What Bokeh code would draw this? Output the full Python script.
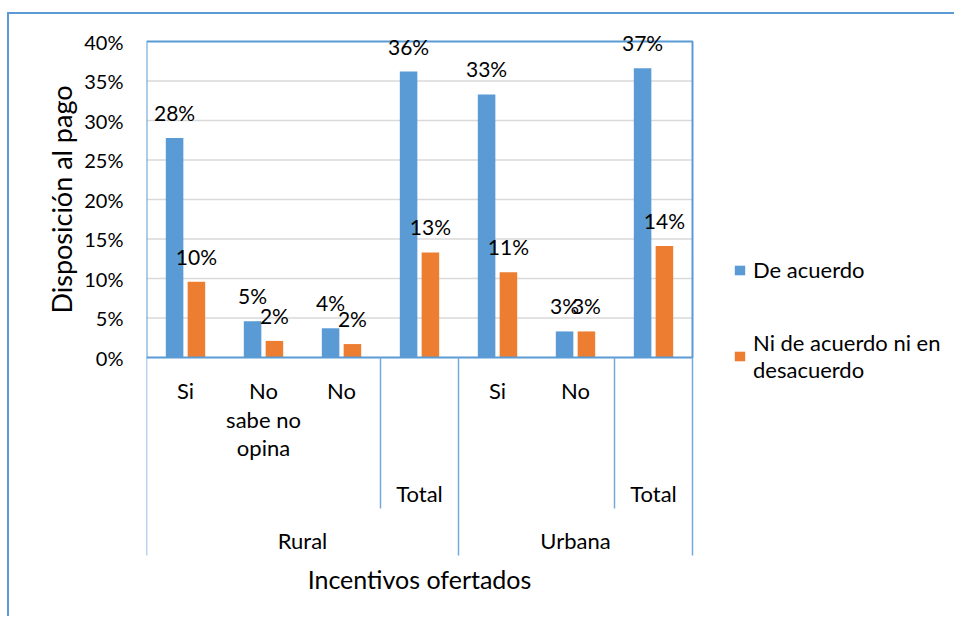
import math
from bokeh.plotting import figure
from bokeh.layouts import row
from bokeh.models import (ColumnDataSource, Range1d, FixedTicker, NumeralTickFormatter,
                          LabelSet, Legend, LegendItem)
from bokeh.core.properties import value
from bokeh.embed import file_html
from bokeh.resources import INLINE

# ---------------- data ----------------
groups = ["Rural", "Urbana"]
group_sizes = [4, 3]
categories = ["Si", "No\nsabe no\nopina", "No", "", "Si", "No", ""]
subtotal_labels = ["", "", "", "Total", "", "", "Total"]
de_acuerdo = [0.278, 0.046, 0.037, 0.362, 0.333, 0.033, 0.366]
ni_de_acuerdo = [0.096, 0.021, 0.017, 0.133, 0.108, 0.033, 0.141]
series_names = ["De acuerdo", "Ni de acuerdo ni en\ndesacuerdo"]
y_ticks = [0.0, 0.05, 0.10, 0.15, 0.20, 0.25, 0.30, 0.35, 0.40]
x_title = "Incentivos ofertados"
y_title = "Disposición al pago"

# ---------------- style / geometry (page pixels) ----------------
FONT = "Lato"
BLUE = "#5b9bd5"
ORANGE = "#ed7d31"
SEP = "#75a8dc"
GRID = "#d9d9d9"
TXT = "#000000"
YMAX = 0.40
OX, OY = 9, 14                      # canvas origin on the page (css margin + border)
W, H = 945, 602                     # total canvas size
WL = 71                             # width of the strip holding the y-axis title
PL_L, PL_R, PL_T, PL_B = 146, 692, 41, 357   # plot area on the page
PX = YMAX / (PL_B - PL_T)           # data units per vertical pixel
n = len(categories)
XU = n / (PL_R - PL_L)              # data units per horizontal pixel


def py(page_y):
    return (PL_B - page_y) * PX


# ---------------- y-title strip ----------------
left = figure(width=WL, height=H, x_range=Range1d(0, WL), y_range=Range1d(H, 0),
              output_backend="svg", toolbar_location=None, min_border=0,
              min_border_left=0, min_border_right=0, min_border_top=0, min_border_bottom=0,
              background_fill_color="white", border_fill_color="white")
left.outline_line_color = None
left.xaxis.visible = False
left.yaxis.visible = False
left.grid.visible = False
left.text(x=[60.5 - OX], y=[(PL_T + PL_B) / 2 - OY], text=[y_title], angle=math.pi / 2,
          text_align="center", text_baseline="middle",
          text_font=value(FONT), text_font_size="27px", text_color=TXT)

# ---------------- main chart ----------------
p = figure(width=W - WL, height=H,
           x_range=Range1d(0, (OX + W - PL_L) * XU),
           y_range=Range1d(py(OY + H), py(OY)),
           output_backend="svg", toolbar_location=None,
           min_border_left=PL_L - OX - WL, min_border_top=0, min_border_right=0,
           min_border_bottom=0,
           background_fill_color="white", border_fill_color="white")

p.outline_line_color = None
p.xgrid.visible = False
p.ygrid.visible = False
p.xaxis.visible = False

yax = p.yaxis[0]
yax.ticker = FixedTicker(ticks=y_ticks)
yax.formatter = NumeralTickFormatter(format="0%")
yax.axis_line_color = None
yax.major_tick_line_color = None
yax.minor_tick_line_color = None
yax.major_tick_in = 0
yax.major_tick_out = 0
yax.major_label_standoff = 23
yax.major_label_text_font = FONT
yax.major_label_text_font_size = "20px"
yax.major_label_text_color = TXT

# gridlines
inner = y_ticks[1:-1]
p.segment(x0=[0] * len(inner), x1=[n] * len(inner), y0=inner, y1=inner,
          line_color=GRID, line_width=1.5)

# bars
OFF = 0.14
BW = 0.225
xc = [i + 0.5 for i in range(n)]
src_a = ColumnDataSource(dict(x=[c - OFF for c in xc], top=de_acuerdo,
                              lab=[f"{round(v * 100)}%" for v in de_acuerdo]))
src_b = ColumnDataSource(dict(x=[c + OFF for c in xc], top=ni_de_acuerdo,
                              lab=[f"{round(v * 100)}%" for v in ni_de_acuerdo]))
ra = p.vbar(x="x", top="top", width=BW, source=src_a, fill_color=BLUE, line_color=None)
rb = p.vbar(x="x", top="top", width=BW, source=src_b, fill_color=ORANGE, line_color=None)

# plot-area outline
p.quad(left=[0], right=[n], bottom=[0], top=[YMAX], fill_color=None,
       line_color=BLUE, line_width=2)

for src in (src_a, src_b):
    p.add_layout(LabelSet(x="x", y="top", text="lab", source=src, y_offset=17,
                          text_align="center", text_baseline="alphabetic",
                          text_font=value(FONT), text_font_size="21px", text_color=TXT))

# category axis (3 levels)
LINE_H = 28.5
tx, ty, tt = [], [], []
for i, cat in enumerate(categories):
    for k, line in enumerate(cat.split("\n")):
        if line:
            tx.append(xc[i]); ty.append(py(390 + k * LINE_H)); tt.append(line)
    if subtotal_labels[i]:
        tx.append(xc[i]); ty.append(py(493)); tt.append(subtotal_labels[i])

start = 0
bounds_long = [0]
bounds_short = []
for g, size in zip(groups, group_sizes):
    tx.append(start + size / 2); ty.append(py(540)); tt.append(g)
    for j in range(start, start + size):
        if subtotal_labels[j]:
            bounds_short.append(j)
    start += size
    bounds_long.append(start)

p.text(x=tx, y=ty, text=tt, text_align="center", text_baseline="middle",
       text_font=value(FONT), text_font_size="22px", text_color=TXT)

p.segment(x0=bounds_long, x1=bounds_long, y0=[0] * len(bounds_long),
          y1=[py(555)] * len(bounds_long), line_color=SEP, line_width=1.5)
p.segment(x0=bounds_short, x1=bounds_short, y0=[0] * len(bounds_short),
          y1=[py(508)] * len(bounds_short), line_color=SEP, line_width=1.5)

p.text(x=[n / 2], y=[py(578)], text=[x_title], text_align="center", text_baseline="middle",
       text_font=value(FONT), text_font_size="25px", text_color=TXT)

# legend
legend = Legend(items=[LegendItem(label=series_names[0], renderers=[ra]),
                       LegendItem(label=series_names[1], renderers=[rb])],
                location=(733 - PL_L, OY + H - 383), orientation="vertical",
                label_text_font=FONT, label_text_font_size="22px", label_text_color=TXT,
                glyph_width=13, glyph_height=12, label_standoff=7, spacing=46,
                padding=0, margin=0, border_line_alpha=0, background_fill_alpha=0,
                label_text_line_height=1.27)
p.add_layout(legend)

layout = row(left, p, spacing=0)
layout.styles = {"margin-left": f"{OX - 2}px", "margin-top": f"{OY - 2}px",
                 "border-left": f"2px solid {BLUE}", "border-top": f"2px solid {BLUE}"}

open("out.html", "w").write(file_html(layout, INLINE))
